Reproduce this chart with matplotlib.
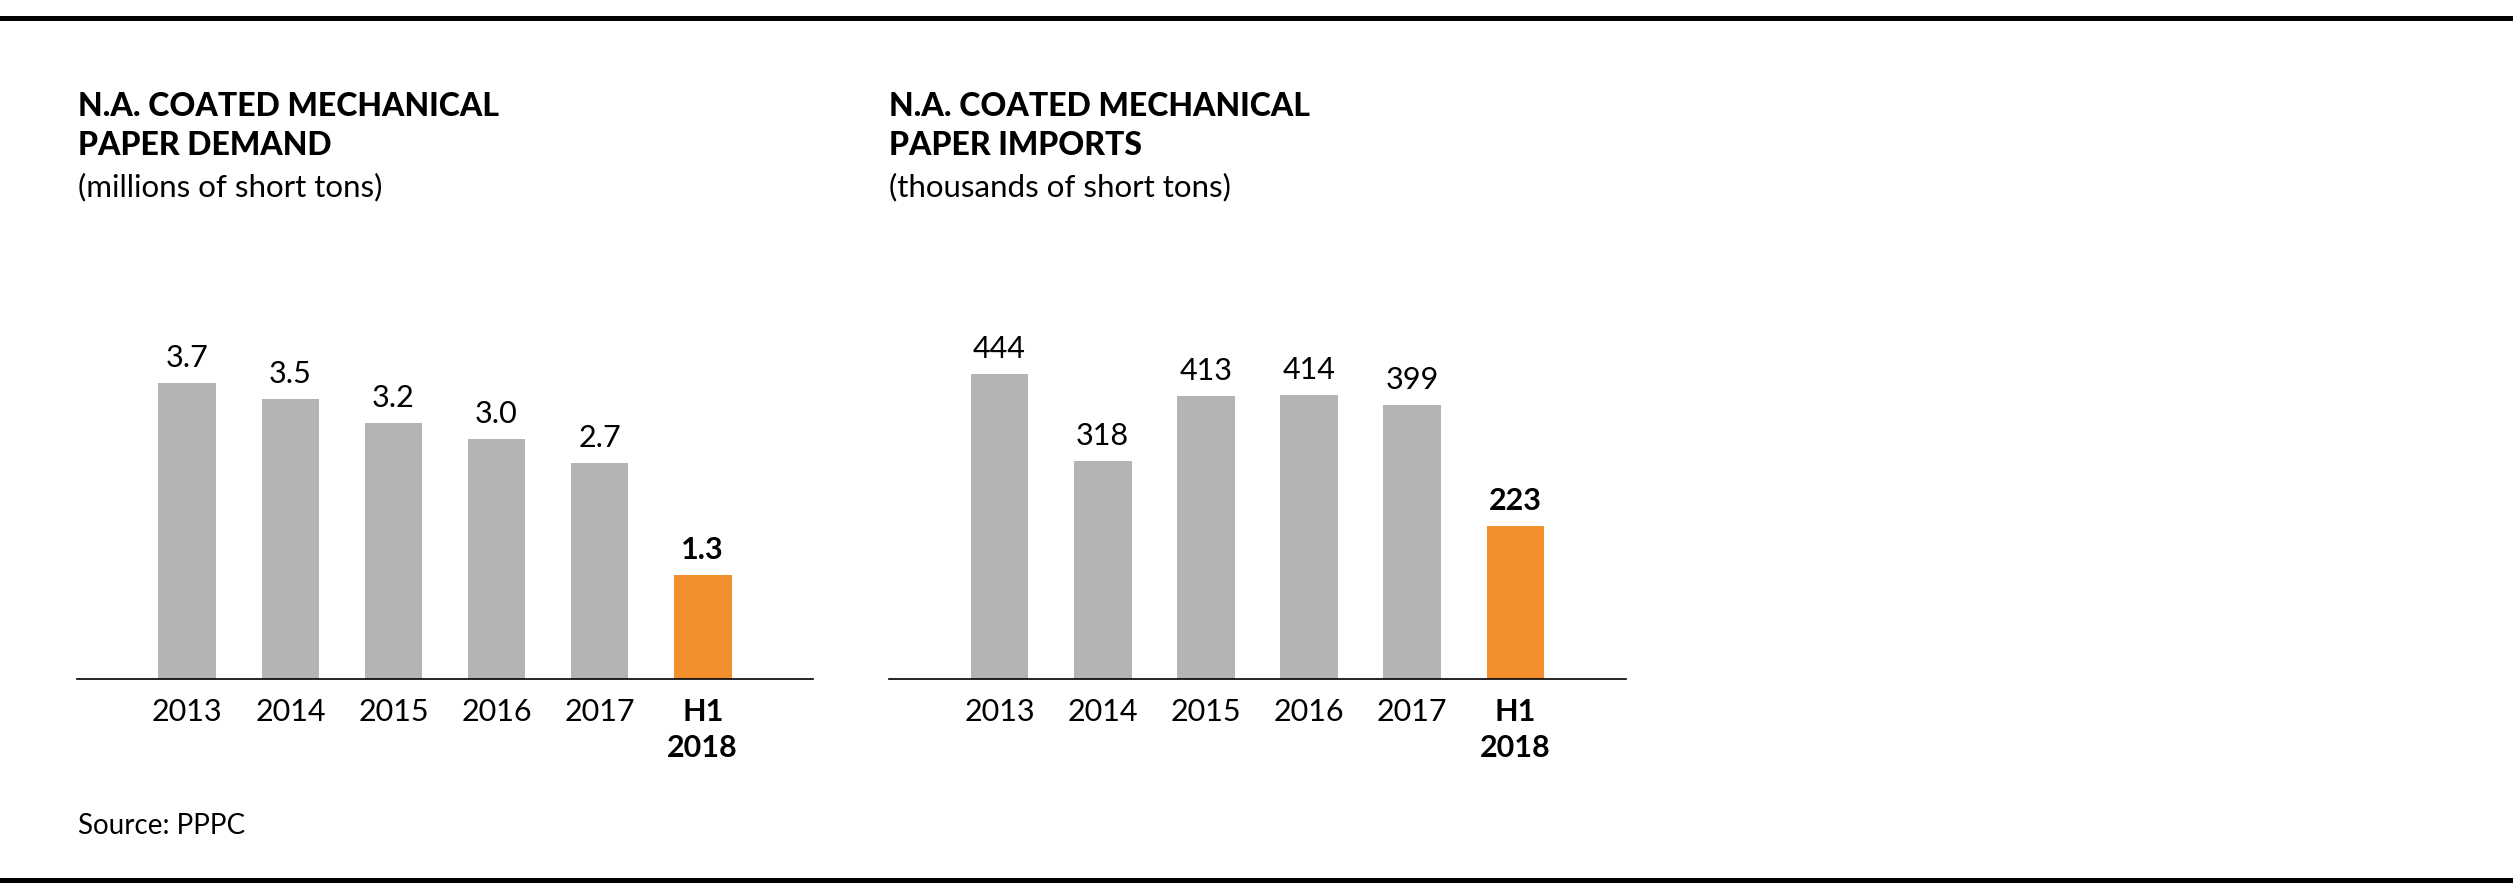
#!/usr/bin/env python3
"""
N.A. coated mechanical paper: demand and imports bar charts
"""
import matplotlib
matplotlib.use('Agg')
import matplotlib.pyplot as plt
from matplotlib.lines import Line2D

# Data
categories = ['2013', '2014', '2015', '2016', '2017', 'H1\n2018']
demand = [3.7, 3.5, 3.2, 3.0, 2.7, 1.3]
demand_labels = ['3.7', '3.5', '3.2', '3.0', '2.7', '1.3']
imports = [444, 318, 413, 414, 399, 223]
imports_labels = ['444', '318', '413', '414', '399', '223']

titles = [
    ('N.A. COATED MECHANICAL', 'PAPER DEMAND', '(millions of short tons)'),
    ('N.A. COATED MECHANICAL', 'PAPER IMPORTS', '(thousands of short tons)'),
]
source_text = 'Source: PPPC'

GRAY = '#B3B4B6'
ORANGE = '#F28E2B'
FONT = 'Lato'

W, H = 2513, 896
plt.rcParams['font.family'] = [FONT, 'DejaVu Sans']


def fx(px):
    return px / W


def fy(py):
    return 1 - py / H


def draw_panel(ax, values, labels, ymax):
    colors = [GRAY] * (len(values) - 1) + [ORANGE]
    x = list(range(len(values)))
    ax.bar(x, values, width=0.56, color=colors)
    for i, (v, lab) in enumerate(zip(values, labels)):
        last = i == len(values) - 1
        ax.annotate(lab, (i, v), xytext=(0, 11.5), textcoords='offset points',
                    ha='center', va='baseline', fontsize=22,
                    fontweight='bold' if last else 'normal', color='black')
    ax.set_xlim(-1.07, len(values) - 1 + 1.07)
    ax.set_ylim(0, ymax)
    ax.set_xticks(x)
    ax.set_xticklabels(categories)
    ax.tick_params(axis='x', length=0, pad=14, labelsize=22)
    ax.set_yticks([])
    for side in ['top', 'left', 'right']:
        ax.spines[side].set_visible(False)
    ax.spines['bottom'].set_linewidth(1.2)
    ax.spines['bottom'].set_color('black')
    last_lab = ax.get_xticklabels()[-1]
    last_lab.set_fontweight('bold')
    last_lab.set_linespacing(1.32)


fig = plt.figure(figsize=(W / 100, H / 100), dpi=100)

axis_y = 679
ax_h = 350
ax1 = fig.add_axes([fx(77), fy(axis_y), fx(813 - 77), ax_h / H])
ax2 = fig.add_axes([fx(889), fy(axis_y), fx(1626 - 889), ax_h / H])

draw_panel(ax1, demand, demand_labels, ax_h / 80.0)
draw_panel(ax2, imports, imports_labels, ax_h / 0.686)

# Titles
for x0, (t1, t2, sub) in zip([78, 889], titles):
    fig.text(fx(x0), fy(116.5), t1, fontsize=23, fontweight='black',
             ha='left', va='baseline')
    fig.text(fx(x0), fy(155), t2, fontsize=23, fontweight='black',
             ha='left', va='baseline')
    fig.text(fx(x0), fy(196), sub, fontsize=22.5, ha='left', va='baseline')

fig.text(fx(78), fy(834), source_text, fontsize=20, ha='left', va='baseline')

# Horizontal rules at top and bottom
for yy in [18.5, 879.5]:
    fig.add_artist(Line2D([0, 1], [fy(yy), fy(yy)], color='black',
                          linewidth=3.6, transform=fig.transFigure))

fig.savefig('out.png', dpi=100, facecolor='white')
